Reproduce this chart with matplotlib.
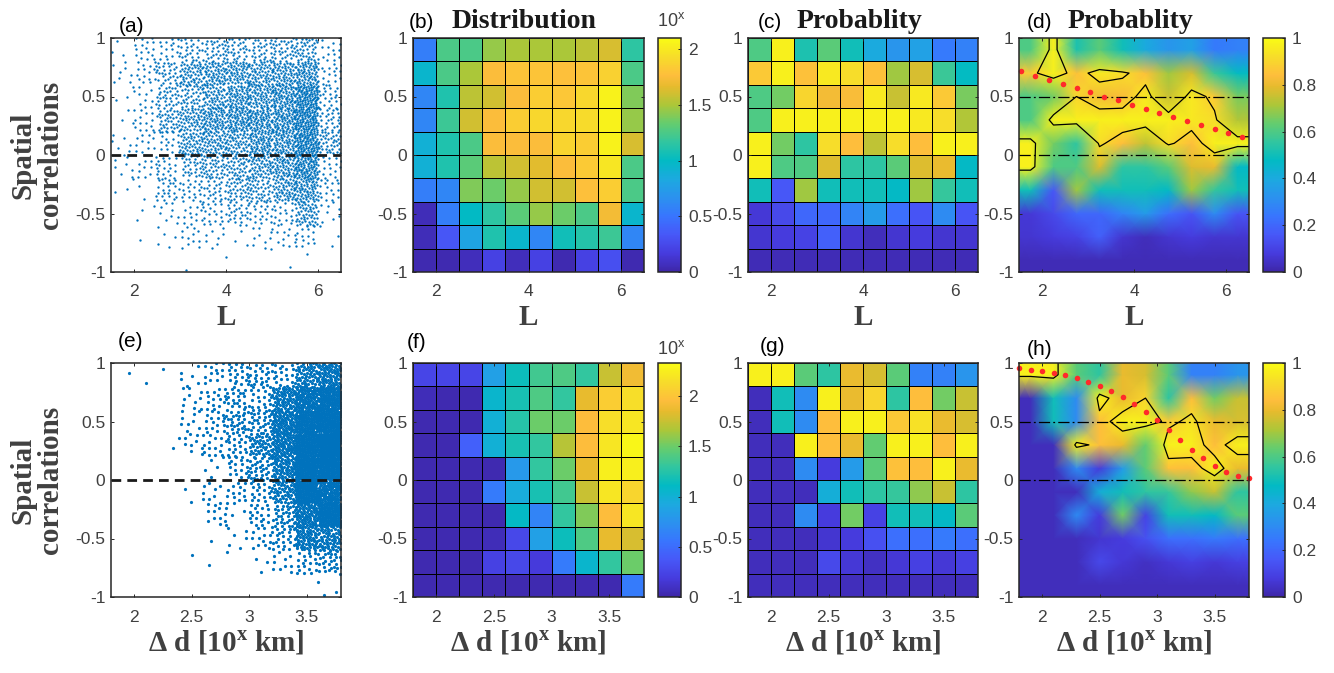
import numpy as np
import matplotlib
matplotlib.use('Agg')
import matplotlib.pyplot as plt
from matplotlib.colors import LinearSegmentedColormap

W, H = 1334, 673

plt.rcParams['font.family'] = ['Liberation Sans', 'DejaVu Sans']
plt.rcParams['mathtext.fontset'] = 'custom'
plt.rcParams['mathtext.rm'] = 'Liberation Sans'
plt.rcParams['mathtext.bf'] = 'Liberation Serif:bold'

# matlab parula, a few anchors of the 64 entry table
PARULA = LinearSegmentedColormap.from_list('parula', [
    (0 / 63, (0.2422, 0.1504, 0.6603)),
    (5 / 63, (0.2751, 0.2342, 0.8710)),
    (10 / 63, (0.2795, 0.3447, 0.9717)),
    (15 / 63, (0.2206, 0.4603, 0.9973)),
    (20 / 63, (0.1687, 0.5703, 0.9359)),
    (25 / 63, (0.1113, 0.6635, 0.8763)),
    (30 / 63, (0.0067, 0.7312, 0.7660)),
    (35 / 63, (0.1938, 0.7758, 0.6251)),
    (40 / 63, (0.3909, 0.8029, 0.4354)),
    (45 / 63, (0.6720, 0.7793, 0.2227)),
    (50 / 63, (0.9035, 0.7330, 0.1774)),
    (53 / 63, (0.9956, 0.7434, 0.2371)),
    (58 / 63, (0.9676, 0.8639, 0.1643)),
    (63 / 63, (0.9769, 0.9839, 0.0805)),
])

# ---- data (grids listed from the top row, y 0.8..1, down to y -1..-0.8) ----
L_EDGES = np.linspace(1.5, 6.5, 11)
D_EDGES = np.linspace(1.8, 3.8, 11)
R_EDGES = np.linspace(-1, 1, 11)

# (b) log10 counts vs L
DIST_L = [
    [0.55, 1.25, 1.25, 1.45, 1.50, 1.50, 1.50, 1.55, 1.62, 1.15],
    [0.95, 1.25, 1.50, 1.75, 1.80, 1.80, 1.78, 1.80, 1.87, 1.25],
    [0.60, 1.10, 1.55, 1.60, 1.75, 1.85, 1.82, 1.90, 2.05, 1.40],
    [0.60, 1.20, 1.60, 1.75, 1.85, 1.90, 1.90, 1.92, 2.05, 1.45],
    [0.90, 1.10, 1.25, 1.75, 1.75, 1.75, 1.88, 1.85, 2.05, 1.62],
    [0.90, 1.10, 1.30, 1.55, 1.60, 1.65, 1.75, 1.83, 1.98, 1.25],
    [0.55, 0.60, 1.40, 1.35, 1.45, 1.60, 1.60, 1.78, 1.85, 1.25],
    [0.05, 0.55, 1.00, 1.15, 1.30, 1.45, 1.35, 1.25, 1.72, 0.95],
    [0.05, 0.32, 0.80, 1.10, 0.95, 0.60, 1.05, 1.12, 1.20, 0.60],
    [0.03, 0.03, 0.06, 0.20, 0.06, 0.20, 0.03, 0.20, 0.28, 0.03],
]
# (c) probability vs L
PROB_L = [
    [0.60, 0.97, 0.52, 0.62, 0.50, 0.40, 0.33, 0.37, 0.25, 0.27],
    [0.87, 0.97, 0.85, 0.95, 0.92, 0.85, 0.70, 0.77, 0.57, 0.48],
    [0.60, 0.65, 0.90, 0.82, 0.83, 0.95, 0.75, 0.95, 0.87, 0.66],
    [0.60, 0.97, 0.97, 0.97, 0.97, 0.97, 0.97, 0.95, 0.92, 0.72],
    [0.97, 0.65, 0.55, 0.92, 0.84, 0.74, 0.92, 0.84, 0.97, 0.97],
    [0.97, 0.60, 0.60, 0.78, 0.55, 0.55, 0.62, 0.78, 0.80, 0.47],
    [0.50, 0.16, 0.70, 0.50, 0.50, 0.50, 0.47, 0.70, 0.56, 0.50],
    [0.07, 0.12, 0.20, 0.20, 0.28, 0.35, 0.22, 0.15, 0.30, 0.15],
    [0.06, 0.08, 0.10, 0.18, 0.06, 0.03, 0.06, 0.08, 0.06, 0.06],
    [0.02, 0.02, 0.02, 0.02, 0.02, 0.02, 0.02, 0.02, 0.02, 0.02],
]
# (f) log10 counts vs distance
DIST_D = [
    [0.25, 0.25, 0.25, 0.85, 1.15, 1.35, 1.40, 1.30, 1.75, 1.90],
    [0.06, 0.03, 0.03, 1.05, 1.20, 1.40, 1.30, 1.85, 2.05, 2.15],
    [0.03, 0.03, 0.03, 1.00, 1.25, 1.50, 1.50, 1.95, 2.15, 2.20],
    [0.03, 0.03, 0.42, 1.00, 1.20, 1.30, 1.70, 1.95, 2.20, 2.30],
    [0.03, 0.03, 0.03, 0.03, 0.80, 1.30, 1.50, 1.85, 2.25, 2.25],
    [0.03, 0.03, 0.03, 0.60, 0.95, 1.20, 1.35, 1.75, 2.20, 2.10],
    [0.03, 0.03, 0.03, 0.03, 1.10, 0.65, 1.30, 1.55, 1.95, 2.20],
    [0.03, 0.03, 0.03, 0.06, 0.27, 0.85, 1.15, 1.40, 1.85, 1.80],
    [0.03, 0.03, 0.03, 0.22, 0.27, 0.18, 0.60, 1.05, 1.30, 1.50],
    [0.03, 0.03, 0.03, 0.03, 0.03, 0.03, 0.03, 0.03, 0.03, 0.60],
]
# (g) probability vs distance
PROB_D = [
    [0.97, 0.97, 0.62, 0.55, 0.80, 0.77, 0.62, 0.27, 0.27, 0.33],
    [0.03, 0.50, 0.30, 0.97, 0.80, 0.90, 0.55, 0.84, 0.65, 0.75],
    [0.03, 0.50, 0.30, 0.84, 0.97, 0.97, 0.87, 0.93, 0.80, 0.77],
    [0.03, 0.03, 0.97, 0.84, 0.80, 0.63, 0.97, 0.97, 0.84, 0.97],
    [0.03, 0.03, 0.30, 0.08, 0.35, 0.62, 0.85, 0.84, 0.97, 0.80],
    [0.03, 0.03, 0.03, 0.42, 0.50, 0.55, 0.56, 0.68, 0.75, 0.55],
    [0.03, 0.03, 0.30, 0.08, 0.65, 0.10, 0.50, 0.50, 0.47, 0.62],
    [0.03, 0.03, 0.03, 0.06, 0.08, 0.14, 0.22, 0.22, 0.25, 0.22],
    [0.03, 0.03, 0.03, 0.12, 0.07, 0.04, 0.07, 0.09, 0.07, 0.09],
    [0.03, 0.03, 0.03, 0.03, 0.03, 0.03, 0.03, 0.03, 0.03, 0.03],
]

# red dotted ridge lines
RIDGE_L_X = [1.55, 1.85, 2.15, 2.45, 2.75, 3.05, 3.35, 3.65, 3.95, 4.25, 4.55,
             4.85, 5.15, 5.45, 5.75, 6.05, 6.35]
RIDGE_L_Y = [0.714, 0.677, 0.643, 0.606, 0.571, 0.537, 0.500, 0.466, 0.431,
             0.397, 0.363, 0.326, 0.291, 0.257, 0.226, 0.191, 0.157]
RIDGE_D_X = [1.8, 1.9, 2.0, 2.1, 2.2, 2.3, 2.4, 2.5, 2.6, 2.7, 2.8, 2.9, 3.0,
             3.1, 3.2, 3.3, 3.4, 3.5, 3.6, 3.7, 3.8]
RIDGE_D_Y = [0.960, 0.943, 0.932, 0.915, 0.895, 0.872, 0.841, 0.804, 0.762,
             0.711, 0.651, 0.583, 0.509, 0.427, 0.342, 0.260, 0.186, 0.118,
             0.067, 0.033, 0.013]

YTICKS = [-1, -0.5, 0, 0.5, 1]
YTICK_LABELS = ['-1', '-0.5', '0', '0.5', '1']
L_TICKS = [2, 4, 6]
D_TICKS = [2, 2.5, 3, 3.5]

GRAY = '#262626'
LABEL_GRAY = '#404040'
DOT_BLUE = (0, 0.447, 0.741)
SERIF_B = dict(family='Liberation Serif', weight='bold')


def px_rect(l, t, r, b):
    return [l / W, 1 - b / H, (r - l) / W, (b - t) / H]


def style_axes(ax, xticks, xlim):
    ax.set_xlim(xlim)
    ax.set_ylim(-1, 1)
    ax.set_xticks(xticks)
    ax.set_xticklabels([('%g' % t) for t in xticks])
    ax.set_yticks(YTICKS)
    ax.set_yticklabels(YTICK_LABELS)
    ax.tick_params(direction='in', top=True, right=True, length=2.5, width=0.7,
                   labelsize=12.5, color=GRAY, labelcolor=LABEL_GRAY)
    ax.tick_params(axis='x', pad=9)
    ax.tick_params(axis='y', pad=4)
    for s in ax.spines.values():
        s.set_color(GRAY)
        s.set_linewidth(1.1)


def scatter_points(log_counts, xedges, yedges):
    # scatter cloud rebuilt from the per-cell counts of the histogram panel,
    # spread inside each cell on a fixed low-discrepancy pattern
    g = np.flipud(np.asarray(log_counts))
    xs, ys = [], []
    k = 0
    for i in range(g.shape[0]):
        for j in range(g.shape[1]):
            n = int(round(10 ** g[i, j] - 1))
            for _ in range(n):
                k += 1
                u = (0.5 + k * 0.7548776662466927) % 1
                v = (0.5 + k * 0.5698402909980532) % 1
                xs.append(xedges[j] + u * (xedges[j + 1] - xedges[j]))
                ys.append(yedges[i] + v * (yedges[i + 1] - yedges[i]))
    return np.array(xs), np.array(ys)


def grid_panel(ax, grid, xedges, vmax):
    g = np.flipud(np.asarray(grid))
    return ax.pcolormesh(xedges, R_EDGES, g, cmap=PARULA, vmin=0, vmax=vmax,
                         edgecolors='k', linewidth=0.5)


def smooth_panel(ax, grid, xedges):
    g = np.flipud(np.asarray(grid))
    xc = (xedges[:-1] + xedges[1:]) / 2
    yc = (R_EDGES[:-1] + R_EDGES[1:]) / 2
    xn = np.r_[xedges[0], xc, xedges[-1]]
    yn = np.r_[R_EDGES[0], yc, R_EDGES[-1]]
    Z = np.pad(g, 1, mode='edge')
    X, Y = np.meshgrid(xn, yn)
    m = ax.pcolormesh(X, Y, Z, shading='gouraud', cmap=PARULA, vmin=0, vmax=1)
    ax.contour(X, Y, Z, levels=[0.9], colors='k', linewidths=0.9)
    for yl in (0, 0.5):
        ax.axhline(yl, color='k', lw=0.9, ls=(0, (9, 2.5, 1.5, 2.5)))
    return m


def add_cbar(fig, m, rect, ticks, labels):
    cax = fig.add_axes(rect)
    cb = fig.colorbar(m, cax=cax, ticks=ticks)
    cb.ax.set_yticklabels(labels)
    cb.ax.tick_params(direction='in', length=2.5, width=0.7, labelsize=12.5,
                      color=GRAY, labelcolor=LABEL_GRAY, pad=5)
    cb.outline.set_edgecolor(GRAY)
    cb.outline.set_linewidth(1.1)
    return cb


def ftext(x, y, s, **kw):
    fig.text(x / W, 1 - y / H, s, va='baseline', **kw)


fig = plt.figure(figsize=(W / 100, H / 100), dpi=100)

rows = [(38, 272), (363, 597)]
sets = [
    dict(dist=DIST_L, prob=PROB_L, edges=L_EDGES, ticks=L_TICKS, vmax=2.1,
         rx=RIDGE_L_X, ry=RIDGE_L_Y, xlabel='L', ms=1.7),
    dict(dist=DIST_D, prob=PROB_D, edges=D_EDGES, ticks=D_TICKS, vmax=2.33,
         rx=RIDGE_D_X, ry=RIDGE_D_Y, xlabel=r'Δ d [10$^{\mathbf{x}}$ km]', ms=2.3),
]

for (t, b), d in zip(rows, sets):
    xlim = (d['edges'][0], d['edges'][-1])

    ax1 = fig.add_axes(px_rect(111, t, 341, b))
    xs, ys = scatter_points(d['dist'], d['edges'], R_EDGES)
    ax1.plot(xs, ys, 'o', color=DOT_BLUE, ms=d['ms'], mec='none')
    ax1.axhline(0, color='#1a1a1a', lw=2, ls=(0, (3.5, 2.2)))
    style_axes(ax1, d['ticks'], xlim)

    ax2 = fig.add_axes(px_rect(413, t, 644, b))
    m2 = grid_panel(ax2, d['dist'], d['edges'], d['vmax'])
    style_axes(ax2, d['ticks'], xlim)
    add_cbar(fig, m2, px_rect(658, t, 681, b), [0, 0.5, 1, 1.5, 2],
             ['0', '0.5', '1', '1.5', '2'])

    ax3 = fig.add_axes(px_rect(748, t, 978, b))
    grid_panel(ax3, d['prob'], d['edges'], 1)
    style_axes(ax3, d['ticks'], xlim)

    ax4 = fig.add_axes(px_rect(1019, t, 1249, b))
    m4 = smooth_panel(ax4, d['prob'], d['edges'])
    ax4.plot(d['rx'], d['ry'], 'o', color='#ff2a2a', ms=4, mec='none', clip_on=False)
    style_axes(ax4, d['ticks'], xlim)
    add_cbar(fig, m4, px_rect(1263, t, 1285, b), [0, 0.2, 0.4, 0.6, 0.8, 1],
             ['0', '0.2', '0.4', '0.6', '0.8', '1'])

    for ax in (ax1, ax2, ax3, ax4):
        ax.set_xlabel(d['xlabel'], fontsize=21, color=LABEL_GRAY, labelpad=3, **SERIF_B)

    fig.text(37 / W, 1 - (t + b) / 2 / H, 'Spatial\ncorrelations', rotation=90,
             ha='center', va='center', ma='center', fontsize=21, color=LABEL_GRAY,
             linespacing=1.0, **SERIF_B)

# panel letters and titles
ftext(119, 32, '(a)', fontsize=15)
ftext(409, 28, '(b)', fontsize=15)
ftext(452, 28, 'Distribution', fontsize=20, color='#1a1a1a', **SERIF_B)
ftext(758, 28, '(c)', fontsize=15)
ftext(797, 28, 'Probablity', fontsize=20, color='#1a1a1a', **SERIF_B)
ftext(1027, 28, '(d)', fontsize=15)
ftext(1068, 28, 'Probablity', fontsize=20, color='#1a1a1a', **SERIF_B)
ftext(118, 347, '(e)', fontsize=15)
ftext(407, 348, '(f)', fontsize=15)
ftext(760, 352, '(g)', fontsize=15)
ftext(1027, 355, '(h)', fontsize=15)
ftext(657, 26, r'10$^{\mathrm{x}}$', fontsize=13, color=LABEL_GRAY)
ftext(657, 354, r'10$^{\mathrm{x}}$', fontsize=13, color=LABEL_GRAY)

fig.savefig('out.png', dpi=100)
